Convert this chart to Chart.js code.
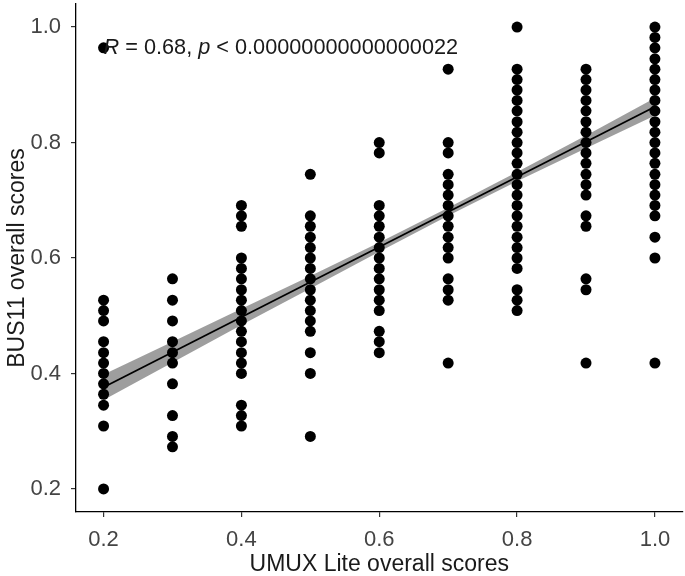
<!DOCTYPE html>
<html>
<head>
<meta charset="utf-8">
<script src="https://cdn.jsdelivr.net/npm/chart.js@4.4.1/dist/chart.umd.min.js"></script>
<style>
    body { margin: 0; background: #fff; }
    #wrap { width: 685px; height: 576px; }
</style>
</head>
<body>
<div id="wrap"><canvas id="scatterChart" width="685" height="576"></canvas></div>
<script>
// UMUX Lite levels (x) and the BUS11 scores seen at each level (y)
const umuxLevels = [0.2, 0.3, 0.4, 0.5, 0.6, 0.7, 0.8, 0.9, 1.0];

const busAt02 = [0.964, 0.527, 0.509, 0.491, 0.455, 0.436, 0.418, 0.400, 0.382, 0.364, 0.345, 0.309, 0.200];
const busAt03 = [0.564, 0.527, 0.491, 0.455, 0.436, 0.418, 0.382, 0.327, 0.291, 0.273];
const busAt04 = [0.691, 0.673, 0.655, 0.600, 0.582, 0.564, 0.545, 0.527, 0.509, 0.491, 0.473, 0.455, 0.436, 0.418, 0.400, 0.345, 0.327, 0.309];
const busAt05 = [0.745, 0.673, 0.655, 0.636, 0.618, 0.600, 0.582, 0.564, 0.545, 0.527, 0.509, 0.491, 0.473, 0.436, 0.400, 0.291];
const busAt06 = [0.800, 0.782, 0.691, 0.673, 0.655, 0.636, 0.618, 0.600, 0.582, 0.564, 0.545, 0.527, 0.509, 0.473, 0.455, 0.436];
const busAt07 = [0.927, 0.800, 0.782, 0.745, 0.727, 0.709, 0.691, 0.673, 0.655, 0.636, 0.618, 0.600, 0.564, 0.545, 0.527, 0.418];
const busAt08 = [1.000, 0.927, 0.909, 0.891, 0.873, 0.855, 0.836, 0.818, 0.800, 0.782, 0.764, 0.745, 0.727, 0.709, 0.691, 0.673, 0.655, 0.636, 0.618, 0.600, 0.582, 0.545, 0.527, 0.509];
const busAt09 = [0.927, 0.909, 0.891, 0.873, 0.855, 0.836, 0.818, 0.800, 0.782, 0.764, 0.745, 0.727, 0.709, 0.673, 0.655, 0.564, 0.545, 0.418];
const busAt10 = [1.000, 0.982, 0.964, 0.945, 0.927, 0.909, 0.891, 0.873, 0.855, 0.836, 0.818, 0.800, 0.782, 0.764, 0.745, 0.727, 0.709, 0.691, 0.673, 0.636, 0.600, 0.418];

// linear fit and its confidence band
const fitX = [0.2, 1.0];
const fitY = [0.376, 0.862];
const bandX = [0.2, 0.3, 0.4, 0.5, 0.6, 0.7, 0.8, 0.9, 1.0];
const bandLow = [0.354, 0.419, 0.484, 0.547, 0.611, 0.673, 0.733, 0.790, 0.847];
const bandHigh = [0.398, 0.455, 0.512, 0.569, 0.627, 0.687, 0.749, 0.812, 0.877];

const xTicks = [0.2, 0.4, 0.6, 0.8, 1.0];
const yTicks = [0.2, 0.4, 0.6, 0.8, 1.0];

const labelX = 0.2;
const labelY = 1.0;
const labelParts = [
    { text: 'R', italic: true },
    { text: ' = 0.68, ' },
    { text: 'p', italic: true },
    { text: ' < 0.00000000000000022' }
];

const columns = [busAt02, busAt03, busAt04, busAt05, busAt06, busAt07, busAt08, busAt09, busAt10];
const points = [];
columns.forEach(function (col, i) {
    col.forEach(function (v) {
        points.push({ x: umuxLevels[i], y: v });
    });
});

const FONT = '"Liberation Sans", Arial, sans-serif';

// draws the R / p label with italic letters
const corLabel = {
    id: 'corLabel',
    afterDatasetsDraw(chart) {
        const ctx = chart.ctx;
        let px = chart.scales.x.getPixelForValue(labelX);
        const py = chart.scales.y.getPixelForValue(labelY) + 27;
        ctx.save();
        ctx.fillStyle = '#1a1a1a';
        ctx.textBaseline = 'alphabetic';
        labelParts.forEach(function (part) {
            ctx.font = (part.italic ? 'italic ' : '') + '21.7px ' + FONT;
            ctx.fillText(part.text, px, py);
            px += ctx.measureText(part.text).width;
        });
        ctx.restore();
    }
};

const ctx = document.getElementById('scatterChart').getContext('2d');
const myChart = new Chart(ctx, {
    type: 'scatter',
    data: {
        datasets: [
            {
                label: 'fit',
                type: 'line',
                data: fitX.map((x, i) => ({ x: x, y: fitY[i] })),
                borderColor: '#000',
                borderWidth: 1.8,
                pointRadius: 0,
                fill: false,
                order: 0
            },
            {
                label: 'scores',
                data: points,
                backgroundColor: '#000',
                borderColor: '#000',
                borderWidth: 0,
                pointRadius: 5.5,
                order: 1
            },
            {
                label: 'band low',
                type: 'line',
                data: bandX.map((x, i) => ({ x: x, y: bandLow[i] })),
                borderWidth: 0,
                pointRadius: 0,
                fill: false,
                order: 2
            },
            {
                label: 'band high',
                type: 'line',
                data: bandX.map((x, i) => ({ x: x, y: bandHigh[i] })),
                borderWidth: 0,
                pointRadius: 0,
                backgroundColor: 'rgba(120, 120, 120, 0.72)',
                fill: '-1',
                order: 2
            }
        ]
    },
    options: {
        responsive: false,
        animation: false,
        layout: { autoPadding: false, padding: { top: 4, right: 2.5, left: 0, bottom: 0 } },
        scales: {
            x: {
                type: 'linear',
                min: 0.16,
                max: 1.04,
                afterBuildTicks: function (s) { s.ticks = xTicks.map(v => ({ value: v })); },
                afterFit: function (s) {
                    s.height = 64;
                    s.paddingLeft = 0;
                    s.paddingRight = 0;
                },
                ticks: {
                    callback: v => v.toFixed(1),
                    font: { size: 22, family: FONT },
                    color: '#444',
                    padding: 10
                },
                grid: { drawOnChartArea: false, tickLength: 5, color: '#333', lineWidth: 1.2 },
                border: { color: '#000', width: 1.3 },
                title: {
                    display: true,
                    text: 'UMUX Lite overall scores',
                    font: { size: 23, family: FONT },
                    color: '#1a1a1a',
                    padding: { top: 0, bottom: -2 }
                }
            },
            y: {
                type: 'linear',
                min: 0.16,
                max: 1.04,
                afterBuildTicks: function (s) { s.ticks = yTicks.map(v => ({ value: v })); },
                afterFit: function (s) {
                    s.width = 76;
                    s.paddingTop = 0;
                    s.paddingBottom = 0;
                },
                ticks: {
                    callback: v => v.toFixed(1),
                    font: { size: 22, family: FONT },
                    color: '#444',
                    padding: 10
                },
                grid: { drawOnChartArea: false, tickLength: 5, color: '#333', lineWidth: 1.2 },
                border: { color: '#000', width: 1.3 },
                title: {
                    display: true,
                    text: 'BUS11 overall scores',
                    font: { size: 23, family: FONT },
                    color: '#1a1a1a',
                    padding: { top: 4, bottom: 0 }
                }
            }
        },
        plugins: {
            legend: { display: false },
            tooltip: { enabled: false }
        }
    },
    plugins: [corLabel]
});
</script>
</body>
</html>
